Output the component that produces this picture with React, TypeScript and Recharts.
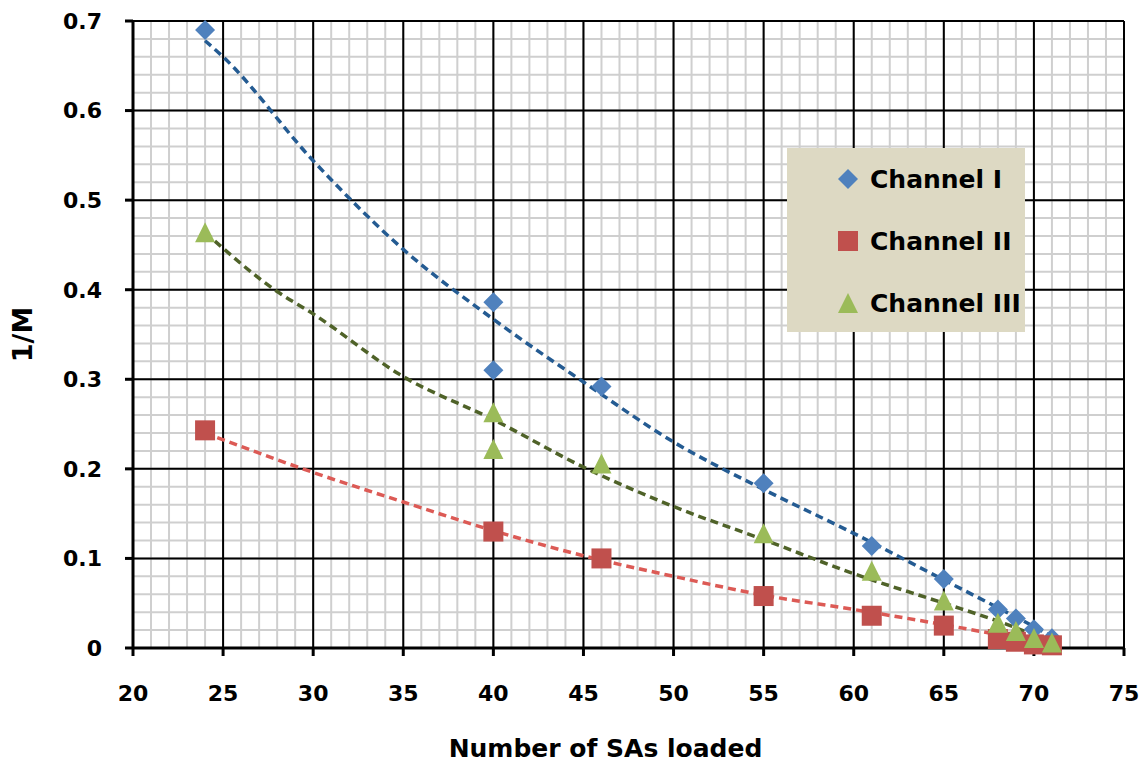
import {
  CartesianGrid,
  ComposedChart,
  Legend,
  Line,
  Scatter,
  XAxis,
  YAxis,
} from "recharts";

// measured points (x = number of SAs loaded, y = 1/M)
const ch1Points = [
  { x: 24, y: 0.69 },
  { x: 40, y: 0.386 },
  { x: 40, y: 0.31 },
  { x: 46, y: 0.292 },
  { x: 55, y: 0.184 },
  { x: 61, y: 0.114 },
  { x: 65, y: 0.077 },
  { x: 68, y: 0.043 },
  { x: 69, y: 0.033 },
  { x: 70, y: 0.021 },
  { x: 71, y: 0.011 },
];
const ch2Points = [
  { x: 24, y: 0.243 },
  { x: 40, y: 0.13 },
  { x: 46, y: 0.1 },
  { x: 55, y: 0.058 },
  { x: 61, y: 0.036 },
  { x: 65, y: 0.025 },
  { x: 68, y: 0.01 },
  { x: 69, y: 0.007 },
  { x: 70, y: 0.004 },
  { x: 71, y: 0.003 },
];
const ch3Points = [
  { x: 24, y: 0.463 },
  { x: 40, y: 0.262 },
  { x: 40, y: 0.221 },
  { x: 46, y: 0.205 },
  { x: 55, y: 0.127 },
  { x: 61, y: 0.085 },
  { x: 65, y: 0.052 },
  { x: 68, y: 0.027 },
  { x: 69, y: 0.018 },
  { x: 70, y: 0.01 },
  { x: 71, y: 0.005 },
];

// trend lines
const ch1Trend = [
  { x: 24, y: 0.678 },
  { x: 25, y: 0.66 },
  { x: 30, y: 0.544 },
  { x: 35, y: 0.445 },
  { x: 40, y: 0.367 },
  { x: 45, y: 0.297 },
  { x: 50, y: 0.23 },
  { x: 55, y: 0.177 },
  { x: 60, y: 0.128 },
  { x: 65, y: 0.076 },
  { x: 68, y: 0.045 },
  { x: 70, y: 0.024 },
  { x: 71, y: 0.013 },
];
const ch2Trend = [
  { x: 24, y: 0.24 },
  { x: 30, y: 0.196 },
  { x: 35, y: 0.163 },
  { x: 40, y: 0.131 },
  { x: 45, y: 0.103 },
  { x: 50, y: 0.08 },
  { x: 55, y: 0.059 },
  { x: 60, y: 0.043 },
  { x: 65, y: 0.026 },
  { x: 68, y: 0.015 },
  { x: 70, y: 0.008 },
  { x: 71, y: 0.005 },
];
const ch3Trend = [
  { x: 24, y: 0.464 },
  { x: 28, y: 0.398 },
  { x: 30, y: 0.373 },
  { x: 35, y: 0.303 },
  { x: 40, y: 0.255 },
  { x: 45, y: 0.202 },
  { x: 50, y: 0.158 },
  { x: 55, y: 0.121 },
  { x: 60, y: 0.083 },
  { x: 65, y: 0.05 },
  { x: 68, y: 0.03 },
  { x: 70, y: 0.015 },
  { x: 71, y: 0.008 },
];

const X_DOMAIN = [20, 75];
const xTicks = [20, 25, 30, 35, 40, 45, 50, 55, 60, 65, 70, 75];
const yTicks = [0, 0.1, 0.2, 0.3, 0.4, 0.5, 0.6, 0.7];
const minorX = Array.from({ length: 56 }, (_, i) => 20 + i);
const minorY = Array.from({ length: 36 }, (_, i) => Math.round(i * 2) / 100);

const BLUE = "#4f81bd";
const RED = "#c0504d";
const GREEN = "#9bbb59";
const BLUE_TREND = "#245b92";
const RED_TREND = "#dc5a55";
const GREEN_TREND = "#4f6228";
const FONT = "'DejaVu Sans', Verdana, sans-serif";

const Diamond = ({ cx, cy, fill }: any) => (
  <polygon points={`${cx},${cy - 10} ${cx + 10},${cy} ${cx},${cy + 10} ${cx - 10},${cy}`} fill={fill} />
);
const Square = ({ cx, cy, fill }: any) => (
  <rect x={cx - 10} y={cy - 10} width={20} height={20} fill={fill} />
);
const Triangle = ({ cx, cy, fill }: any) => (
  <polygon points={`${cx},${cy - 11} ${cx + 10},${cy + 9} ${cx - 10},${cy + 9}`} fill={fill} />
);

const legendItems = [
  { name: "Channel I", color: BLUE, shape: "diamond" },
  { name: "Channel II", color: RED, shape: "square" },
  { name: "Channel III", color: GREEN, shape: "triangle" },
];

function LegendBox() {
  return (
    <div
      style={{
        background: "#ddd9c3",
        width: 238,
        height: 184,
        boxSizing: "border-box",
        paddingTop: 0,
        paddingLeft: 49,
        fontFamily: FONT,
        fontWeight: 700,
        fontSize: 25,
        color: "#000",
        whiteSpace: "nowrap",
      }}
    >
      {legendItems.map((it) => (
        <div key={it.name} style={{ display: "flex", alignItems: "center", height: 62 }}>
          <svg width={24} height={24} style={{ marginRight: 10, flex: "none" }}>
            {it.shape === "diamond" && <Diamond cx={12} cy={12} fill={it.color} />}
            {it.shape === "square" && <Square cx={12} cy={12} fill={it.color} />}
            {it.shape === "triangle" && <Triangle cx={12} cy={13} fill={it.color} />}
          </svg>
          <span>{it.name}</span>
        </div>
      ))}
    </div>
  );
}

// minor vertical grid: 1 unit steps across the x domain of the plot area
const minorVertical = ({ offset }: any) =>
  minorX.map((v) => offset.left + ((v - X_DOMAIN[0]) / (X_DOMAIN[1] - X_DOMAIN[0])) * offset.width);

export default function App() {
  return (
    <div style={{ position: "absolute", left: 0, top: 0, background: "#fff" }}>
      <ComposedChart width={1147} height={765} margin={{ top: 21, right: 23, bottom: 0, left: 0 }}>
        <CartesianGrid
          xAxisId="minor"
          yAxisId="minor"
          stroke="#cfcfcf"
          strokeWidth={2}
          syncWithTicks
          verticalCoordinatesGenerator={minorVertical}
        />
        <CartesianGrid stroke="#000" strokeWidth={2} />
        <XAxis
          xAxisId="minor"
          type="number"
          domain={X_DOMAIN}
          ticks={minorX}
          interval={0}
          tick={{ fontSize: 1 }}
          minTickGap={0}
          hide
          allowDataOverflow
        />
        <YAxis
          yAxisId="minor"
          type="number"
          domain={[0, 0.7]}
          ticks={minorY}
          interval={0}
          tick={{ fontSize: 1 }}
          minTickGap={0}
          hide
          allowDataOverflow
        />
        <XAxis
          type="number"
          dataKey="x"
          domain={X_DOMAIN}
          ticks={xTicks}
          interval={0}
          height={117}
          axisLine={{ stroke: "#000", strokeWidth: 3 }}
          tickLine={{ stroke: "#000", strokeWidth: 3 }}
          tickSize={8}
          tickMargin={29}
          tick={{ fill: "#000", fontSize: 22, fontWeight: 700, fontFamily: FONT }}
          label={{
            content: ({ viewBox }: any) => (
              <text
                x={viewBox.x + viewBox.width / 2 - 23}
                y={viewBox.y + 109}
                textAnchor="middle"
                fill="#000"
                fontSize={25}
                fontWeight={700}
                fontFamily={FONT}
              >
                Number of SAs loaded
              </text>
            ),
          }}
        />
        <YAxis
          type="number"
          dataKey="y"
          domain={[0, 0.7]}
          ticks={yTicks}
          interval={0}
          width={133}
          axisLine={{ stroke: "#000", strokeWidth: 3 }}
          tickLine={{ stroke: "#000", strokeWidth: 3 }}
          tickSize={8}
          tickMargin={23}
          tick={{ fill: "#000", fontSize: 22, fontWeight: 700, fontFamily: FONT }}
          label={{
            content: ({ viewBox }: any) => {
              const cx = viewBox.x + 22;
              const cy = viewBox.y + viewBox.height / 2;
              return (
                <text
                  x={cx}
                  y={cy}
                  transform={`rotate(-90 ${cx} ${cy})`}
                  textAnchor="middle"
                  dominantBaseline="central"
                  fill="#000"
                  fontSize={27}
                  fontWeight={700}
                  fontFamily={FONT}
                >
                  1/M
                </text>
              );
            },
          }}
        />
        <Scatter name="Channel I" data={ch1Points} fill={BLUE} shape={Diamond} isAnimationActive={false} />
        <Scatter name="Channel II" data={ch2Points} fill={RED} shape={Square} isAnimationActive={false} />
        <Scatter name="Channel III" data={ch3Points} fill={GREEN} shape={Triangle} isAnimationActive={false} />
        <Line data={ch1Trend} dataKey="y" type="monotone" stroke={BLUE_TREND} strokeWidth={3.5} strokeDasharray="8 5" dot={false} activeDot={false} legendType="none" isAnimationActive={false} />
        <Line data={ch2Trend} dataKey="y" type="monotone" stroke={RED_TREND} strokeWidth={3.5} strokeDasharray="8 5" dot={false} activeDot={false} legendType="none" isAnimationActive={false} />
        <Line data={ch3Trend} dataKey="y" type="monotone" stroke={GREEN_TREND} strokeWidth={3.5} strokeDasharray="8 5" dot={false} activeDot={false} legendType="none" isAnimationActive={false} />
        <Legend
          layout="horizontal"
          verticalAlign="middle"
          align="center"
          content={() => <LegendBox />}
          wrapperStyle={{ left: 787, top: 148, width: 238, height: 184 }}
        />
      </ComposedChart>
    </div>
  );
}
